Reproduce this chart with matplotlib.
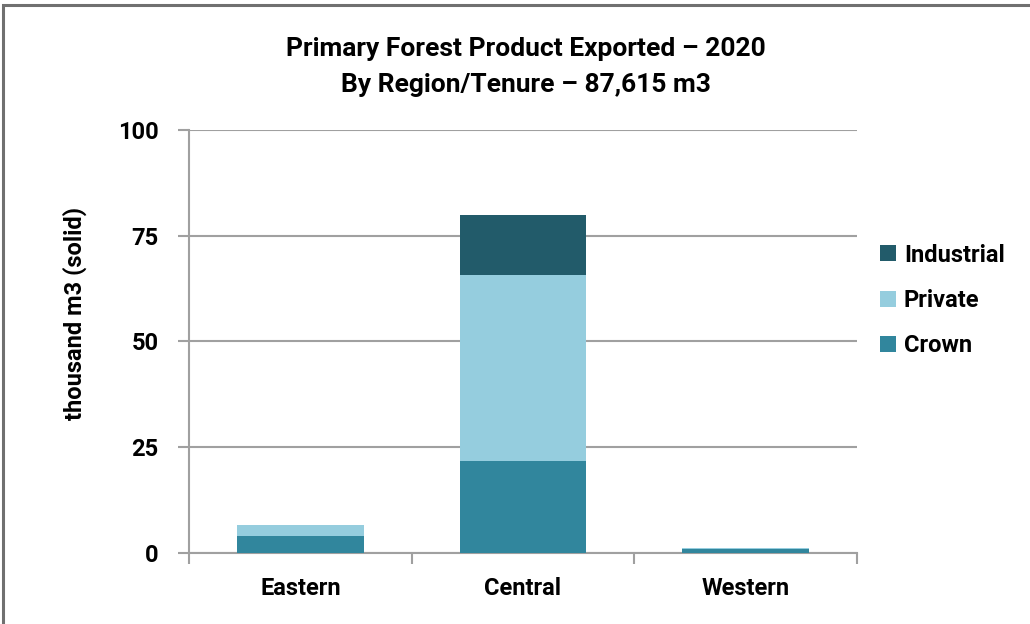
import numpy as np
import matplotlib.pyplot as plt
from matplotlib.patches import Rectangle

plt.rcParams['font.family'] = ['Roboto', 'DejaVu Sans']

regions = ["Eastern", "Central", "Western"]
crown = [3.9, 21.7, 1.0]
private = [2.7, 44.0, 0.1]
industrial = [0.0, 14.3, 0.0]
yticks = [0, 25, 50, 75, 100]

c_crown = "#31869d"
c_private = "#95cdde"
c_industrial = "#225b6a"
grey = "#a0a0a0"

fig = plt.figure(figsize=(10.3, 6.24), dpi=100)
ax = fig.add_axes([0.1835, 0.1138, 0.6485, 0.6779])

# outer frame like the exported chart
fig.patches.append(Rectangle((0.003, -0.05), 1.1, 1.042,
                             transform=fig.transFigure, fill=False,
                             edgecolor="#707070", linewidth=2.2))

x = np.arange(len(regions))
w = 0.57
bot2 = np.array(crown) + np.array(private)
ax.bar(x, crown, w, color=c_crown, label="Crown", zorder=3)
ax.bar(x, private, w, bottom=crown, color=c_private, label="Private", zorder=3)
ax.bar(x, industrial, w, bottom=bot2, color=c_industrial, label="Industrial", zorder=3)

ax.set_xlim(-0.5, 2.5)
ax.set_ylim(0, 100)
ax.set_yticks(yticks)
ax.set_yticklabels([str(t) for t in yticks], fontsize=17, fontweight="bold")
ax.yaxis.grid(True, color=grey, linewidth=1.5, zorder=0)

ax.set_xticks(x)
ax.set_xticklabels(regions, fontsize=17, fontweight="bold")
ax.tick_params(axis="x", length=0, pad=17)
ax.set_xticks([-0.5, 0.5, 1.5, 2.5], minor=True)
ax.tick_params(axis="x", which="minor", length=8, width=1.5, color=grey)
ax.tick_params(axis="y", length=8, width=1.5, color=grey, pad=14)

for s in ["top", "right"]:
    ax.spines[s].set_visible(False)
for s in ["left", "bottom"]:
    ax.spines[s].set_color(grey)
    ax.spines[s].set_linewidth(1.5)

ax.set_ylabel("thousand m3 (solid)", fontsize=17, fontweight="bold")
ax.yaxis.set_label_coords(-0.153, 0.567)

fig.text(0.511, 0.893, "Primary Forest Product Exported \u2013 2020\nBy Region/Tenure \u2013 87,615 m3",
         ha="center", va="center", fontsize=19, fontweight="bold", linespacing=1.62)

handles, labels = ax.get_legend_handles_labels()
ax.legend(handles[::-1], labels[::-1], loc="center left", bbox_to_anchor=(1.003, 0.597),
          frameon=False, prop={"weight": "bold", "size": 17},
          handlelength=0.65, handleheight=0.65, handletextpad=0.35, labelspacing=0.95)

fig.savefig("out.png", dpi=100)
